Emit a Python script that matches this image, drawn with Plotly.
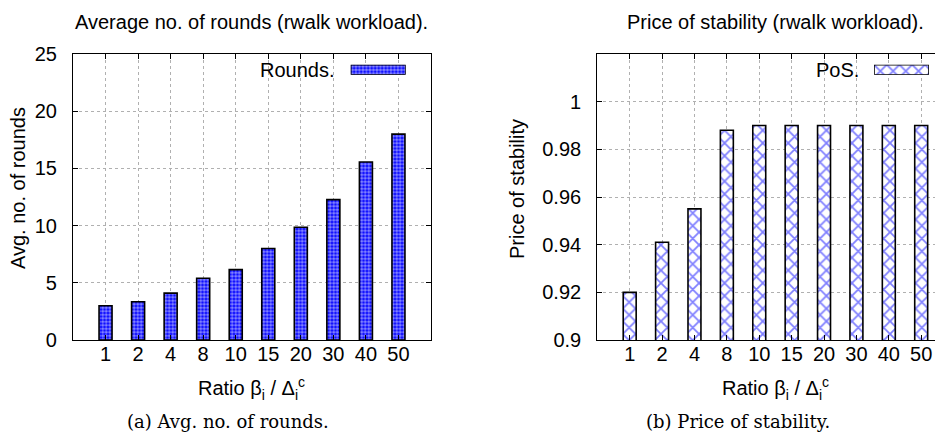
import plotly.graph_objects as go

categories = ["1", "2", "4", "8", "10", "15", "20", "30", "40", "50"]
rounds = [3.0, 3.35, 4.1, 5.4, 6.15, 8.0, 9.85, 12.27, 15.56, 18.0]
pos = [0.920, 0.941, 0.955, 0.988, 0.990, 0.990, 0.990, 0.990, 0.990, 0.990]
y1_ticks = [0, 5, 10, 15, 20, 25]
y2_ticks = [0.9, 0.92, 0.94, 0.96, 0.98, 1.0]
y2_ticktext = ["0.9", "0.92", "0.94", "0.96", "0.98", "1"]

W, H = 943, 432
idx = list(range(len(categories)))

def px(x):
    return x / W

def py(y):
    return 1 - y / H

FONT = "Liberation Sans"
SERIF = "DejaVu Serif"
FS = 20

pat_dots = dict(shape=".", fgcolor="white", bgcolor="#0000ff", size=3.5, solidity=0.65)
pat_x = dict(shape="x", fgcolor="#0000ff", bgcolor="white", size=9, solidity=0.35)
bar_line = dict(color="black", width=1.6)

fig = go.Figure()
fig.add_trace(go.Bar(x=idx, y=rounds, width=0.4, xaxis="x", yaxis="y",
                     marker=dict(color="#0000ff", pattern=pat_dots, line=bar_line),
                     showlegend=False))
fig.add_trace(go.Bar(x=idx, y=pos, width=0.4, xaxis="x2", yaxis="y2",
                     marker=dict(color="white", pattern=pat_x, line=bar_line),
                     showlegend=False))
# legend keys
fig.add_trace(go.Bar(x=[0.5], y=[1], width=1, xaxis="x3", yaxis="y3",
                     marker=dict(color="#0000ff", pattern=pat_dots, line=bar_line),
                     showlegend=False, hoverinfo="skip"))
fig.add_trace(go.Bar(x=[0.5], y=[1], width=1, xaxis="x4", yaxis="y4",
                     marker=dict(color="white", pattern=pat_x, line=bar_line),
                     showlegend=False, hoverinfo="skip"))

common_x = dict(tickmode="array", tickvals=idx, ticktext=categories,
                showline=True, linecolor="black", linewidth=1.2, mirror="ticks",
                ticks="inside", ticklen=5, tickcolor="black",
                showgrid=True, gridcolor="#b0b0b0", griddash="dot", gridwidth=1,
                zeroline=False, tickfont=dict(family=FONT, size=FS, color="black"),
                ticklabelstandoff=-4, automargin=False)
common_y = dict(showline=True, linecolor="black", linewidth=1.2, mirror="ticks",
                ticks="inside", ticklen=5, tickcolor="black",
                showgrid=True, gridcolor="#b0b0b0", griddash="dot", gridwidth=1,
                zeroline=False, tickfont=dict(family=FONT, size=FS, color="black"),
                ticklabelstandoff=11, automargin=False)

y_top, y_bot = 46, 332
fig.update_layout(
    width=W, height=H,
    margin=dict(l=0, r=0, t=0, b=0, pad=0),
    paper_bgcolor="white", plot_bgcolor="white",
    barmode="overlay",
    xaxis=dict(domain=[px(65), px(423)], range=[-1, 10], anchor="y", **common_x),
    yaxis=dict(domain=[py(y_bot), py(y_top)], range=[0, 25], tickvals=y1_ticks,
               anchor="x", **common_y),
    xaxis2=dict(domain=[px(589.3), 1.0], range=[-1, 9.92], anchor="y2", **common_x),
    yaxis2=dict(domain=[py(y_bot), py(y_top)], range=[0.9, 1.02], tickvals=y2_ticks,
                ticktext=y2_ticktext, anchor="x2", **common_y),
    xaxis3=dict(domain=[px(342.7), px(397.7)], range=[0, 1], anchor="y3", visible=False),
    yaxis3=dict(domain=[py(66.7), py(56.7)], range=[0, 1], anchor="x3", visible=False),
    xaxis4=dict(domain=[px(866), px(921)], range=[0, 1], anchor="y4", visible=False),
    yaxis4=dict(domain=[py(66.7), py(56.7)], range=[0, 1], anchor="x4", visible=False),
    showlegend=False,
)

def ann(text, x, y, size=FS, family=FONT, xanchor="center", yanchor="middle", angle=0):
    fig.add_annotation(text=text, x=px(x), y=py(y), xref="paper", yref="paper",
                       showarrow=False, xanchor=xanchor, yanchor=yanchor, textangle=angle,
                       font=dict(family=family, size=size, color="black"))

ann("Average no. of rounds (rwalk workload).", 243.5, 1, yanchor="top")
ann("Price of stability (rwalk workload).", 767, 1, yanchor="top")
ann("Avg. no. of rounds", 10, 180, angle=-90)
ann("Price of stability", 509, 181, angle=-90)
ann("Ratio β<sub>i</sub> / Δ<sub>i</sub><sup>c</sup>", 243.7, 380)
ann("Ratio β<sub>i</sub> / Δ<sub>i</sub><sup>c</sup>", 767, 380)
ann("Rounds.", 329, 62, xanchor="right")
ann("PoS.", 853, 62, xanchor="right")
ann("(a) Avg. no. of rounds.", 219.7, 413, size=18, family=SERIF)
ann("(b) Price of stability.", 729.8, 413, size=18, family=SERIF)

fig.write_html("out.html")
